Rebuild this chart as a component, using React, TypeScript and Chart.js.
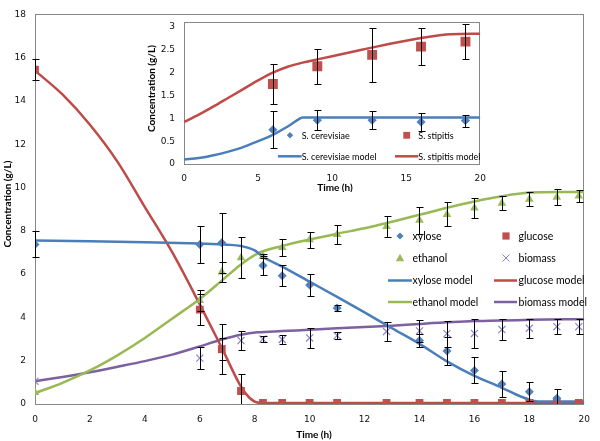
import React, { useEffect, useRef } from 'react';
import { Chart, registerables } from 'chart.js';

Chart.register(...registerables);

// ---------------- main chart data ----------------
const sampleTimes = [0, 6, 6.8, 7.5, 8.3, 9, 10, 11, 12.8, 14, 15, 16, 17, 18, 19, 19.8];
const xyloseVals = [7.37, 7.37, 7.45, null, 6.4, 5.93, 5.5, 4.43, null, 2.93, 2.45, 1.55, 0.92, 0.57, 0.27, null];
const xyloseErr = [0.6, 0.85, 1.38, 0, 0.45, 0.5, 0.5, 0.15, 0, 0.3, 0.65, 0.6, 0.6, 0.45, 0.4, 0];
const glucoseVals = [15.45, 4.36, 2.53, 0.6, 0.05, 0.05, 0.05, 0.05, 0.05, 0.05, 0.05, 0.05, 0.05, 0.05, 0.05, 0.05];
const glucoseErr = [0.5, 0.7, 1.15, 0.8, 0, 0, 0, 0, 0, 0, 0, 0, 0, 0, 0, 0];
const ethanolVals = [0.53, 4.78, 6.1, 6.76, 6.83, 7.23, 7.59, 7.83, 8.2, 8.49, 8.76, 9.06, 9.28, 9.46, 9.55, 9.61];
const ethanolErr = [0, 0.5, 0.45, 0.95, 0.1, 0.4, 0.37, 0.43, 0.5, 0.62, 0.55, 0.47, 0.32, 0.33, 0.37, 0.3];
const biomassVals = [1.05, 2.12, 2.55, 2.93, 3.0, 2.98, 3.05, 3.16, 3.35, 3.38, 3.25, 3.26, 3.44, 3.5, 3.57, 3.57];
const biomassErr = [0, 0.5, 0.5, 0.45, 0.15, 0.22, 0.45, 0.15, 0.43, 0.5, 0.6, 0.65, 0.5, 0.45, 0.35, 0.35];

const xyloseModelT = [0, 2, 4, 6, 7, 7.5, 8, 8.3, 9, 10, 11, 12, 13, 14, 15, 16, 17, 17.5, 18, 18.3, 20];
const xyloseModelY = [7.55, 7.52, 7.47, 7.41, 7.36, 7.3, 7.1, 6.8, 6.35, 5.65, 4.95, 4.23, 3.5, 2.78, 1.97, 1.3, 0.75, 0.45, 0.2, 0.12, 0.12];
const glucoseModelT = [0, 1, 2, 3, 4, 5, 6, 6.8, 7.5, 7.8, 8.1, 8.4, 20];
const glucoseModelY = [15.4, 14.3, 12.9, 11.2, 9.1, 7.0, 4.6, 2.6, 0.8, 0.3, 0.07, 0.05, 0.05];
const ethanolModelT = [0, 1, 2, 3, 4, 5, 6, 6.8, 7.5, 8.1, 9, 10, 11, 12, 13, 14, 15, 16, 17, 18, 19, 20];
const ethanolModelY = [0.5, 0.98, 1.55, 2.25, 3.05, 3.95, 4.85, 5.7, 6.45, 6.95, 7.3, 7.6, 7.87, 8.12, 8.42, 8.74, 9.07, 9.36, 9.6, 9.77, 9.8, 9.8];
const biomassModelT = [0, 1, 2, 3, 4, 5, 6, 6.8, 7.5, 8.1, 9, 10, 12, 13, 14, 16, 18, 20];
const biomassModelY = [1.05, 1.25, 1.47, 1.72, 1.98, 2.28, 2.66, 2.98, 3.2, 3.31, 3.37, 3.43, 3.56, 3.62, 3.7, 3.83, 3.89, 3.92];

const mainXTicks = [0, 2, 4, 6, 8, 10, 12, 14, 16, 18, 20];
const mainYTicks = [0, 2, 4, 6, 8, 10, 12, 14, 16, 18];

// ---------------- inset chart data ----------------
const insetTimes = [6, 9, 12.7, 16, 19];
const cerevisiaeVals = [0.75, 0.96, 0.96, 0.92, 0.95];
const cerevisiaeErr = [0.4, 0.22, 0.2, 0.2, 0.13];
const stipitisVals = [1.75, 2.14, 2.39, 2.57, 2.68];
const stipitisErr = [0.43, 0.38, 0.59, 0.4, 0.38];

const cerevisiaeModelT = [0, 1, 2, 3, 4, 5, 6, 7, 7.7, 8, 20];
const cerevisiaeModelY = [0.1, 0.13, 0.19, 0.27, 0.37, 0.5, 0.64, 0.82, 0.97, 1.02, 1.02];
const stipitisModelT = [0, 1, 2, 3, 4, 5, 6, 7, 8, 9, 10, 12, 14, 16, 18, 20];
const stipitisModelY = [0.92, 1.08, 1.26, 1.45, 1.64, 1.83, 2.0, 2.13, 2.22, 2.29, 2.36, 2.5, 2.64, 2.76, 2.84, 2.85];

const insetXTicks = [0, 5, 10, 15, 20];
const insetYTicks = [0, 0.5, 1, 1.5, 2, 2.5, 3];

// ---------------- styles ----------------
const BLUE_L = '#4a7ebb', BLUE_M = '#4f81bd';
const RED_L = '#be4b48', RED_M = '#c0504d';
const GREEN_L = '#98b954', GREEN_M = '#9bbb59';
const PURPLE_L = '#7d60a0', PURPLE_M = '#9283c2';
const FRAME = '#878787';
const TICK_FONT = { family: 'DejaVu Sans', size: 9 };

function pts(t: number[], y: (number | null)[], e?: number[]) {
  const out: any[] = [];
  t.forEach((x, i) => {
    if (y[i] != null) out.push({ x, y: y[i], e: e ? e[i] : 0 });
  });
  return out;
}

function lineDs(t: number[], y: number[], color: string) {
  return {
    data: pts(t, y),
    showLine: true,
    borderColor: color,
    backgroundColor: color,
    borderWidth: 2.5,
    pointRadius: 0,
    cubicInterpolationMode: 'monotone',
    order: 2,
  };
}

function markDs(t: number[], y: (number | null)[], e: number[], color: string, style: string, r: number) {
  return {
    data: pts(t, y, e),
    showLine: false,
    pointStyle: style,
    pointRadius: r,
    pointBackgroundColor: color,
    pointBorderColor: color,
    pointBorderWidth: style === 'crossRot' ? 1.2 : 0,
    errorBars: true,
    order: 1,
  };
}

function drawMarker(ctx: CanvasRenderingContext2D, kind: string, x: number, y: number, color: string, s: number) {
  ctx.save();
  ctx.fillStyle = color;
  ctx.strokeStyle = color;
  ctx.beginPath();
  if (kind === 'diamond') {
    ctx.moveTo(x, y - s); ctx.lineTo(x + s, y); ctx.lineTo(x, y + s); ctx.lineTo(x - s, y); ctx.closePath(); ctx.fill();
  } else if (kind === 'square') {
    ctx.rect(x - s, y - s, 2 * s, 2 * s); ctx.fill();
  } else if (kind === 'triangle') {
    ctx.moveTo(x, y - s); ctx.lineTo(x + s, y + s * 0.8); ctx.lineTo(x - s, y + s * 0.8); ctx.closePath(); ctx.fill();
  } else if (kind === 'cross') {
    ctx.lineWidth = 1;
    ctx.moveTo(x - s, y - s); ctx.lineTo(x + s, y + s); ctx.moveTo(x + s, y - s); ctx.lineTo(x - s, y + s); ctx.stroke();
  }
  ctx.restore();
}

const errorBarPlugin = {
  id: 'errorBars',
  afterDatasetsDraw(chart: any) {
    const ctx = chart.ctx;
    const a = chart.chartArea;
    const xs = chart.scales.x, ys = chart.scales.y;
    ctx.save();
    ctx.beginPath();
    ctx.rect(a.left - 5, a.top - 5, a.right - a.left + 10, a.bottom - a.top + 5);
    ctx.clip();
    ctx.strokeStyle = '#000';
    ctx.lineWidth = 1;
    chart.data.datasets.forEach((ds: any) => {
      if (!ds.errorBars) return;
      ds.data.forEach((p: any) => {
        if (!p.e) return;
        const px = Math.round(xs.getPixelForValue(p.x)) + 0.5;
        const y1 = Math.round(ys.getPixelForValue(p.y + p.e)) + 0.5;
        const y2 = Math.round(ys.getPixelForValue(Math.max(p.y - p.e, 0))) + 0.5;
        ctx.beginPath();
        ctx.moveTo(px, y1); ctx.lineTo(px, y2);
        ctx.moveTo(px - 3, y1); ctx.lineTo(px + 4, y1);
        if (p.y - p.e > 0) { ctx.moveTo(px - 3, y2); ctx.lineTo(px + 4, y2); }
        ctx.stroke();
      });
    });
    ctx.restore();
  },
};

type LegendEntry = { kind: string; color: string; label: string; x: number; y: number; x2?: number; s?: number };

function decoPlugin(opts: { xTitle: [number, number]; yTitle: [number, number]; titleSize: number; legend: LegendEntry[]; legendSize: number; textX: (e: LegendEntry) => number }) {
  return {
    id: 'deco',
    beforeDatasetsDraw(chart: any) {
      const ctx = chart.ctx;
      const a = chart.chartArea;
      ctx.save();
      ctx.strokeStyle = FRAME;
      ctx.lineWidth = 1;
      ctx.strokeRect(Math.round(a.left) + 0.5, Math.round(a.top) + 0.5, Math.round(a.right - a.left) - 1, Math.round(a.bottom - a.top));
      ctx.restore();
    },
    afterDraw(chart: any) {
      const ctx = chart.ctx;
      ctx.save();
      ctx.fillStyle = '#000';
      ctx.font = `bold ${opts.titleSize}px Lato`;
      ctx.textAlign = 'center';
      ctx.textBaseline = 'middle';
      ctx.fillText('Time (h)', opts.xTitle[0], opts.xTitle[1]);
      ctx.save();
      ctx.translate(opts.yTitle[0], opts.yTitle[1]);
      ctx.rotate(-Math.PI / 2);
      ctx.fillText('Concentration (g/L)', 0, 0);
      ctx.restore();
      ctx.font = `${opts.legendSize}px Lato`;
      ctx.textAlign = 'left';
      opts.legend.forEach((e) => {
        if (e.kind === 'line') {
          ctx.save();
          ctx.strokeStyle = e.color;
          ctx.lineWidth = 2.5;
          ctx.beginPath();
          ctx.moveTo(e.x, e.y);
          ctx.lineTo(e.x2 as number, e.y);
          ctx.stroke();
          ctx.restore();
        } else {
          drawMarker(ctx, e.kind, e.x, e.y, e.color, e.s || 3.5);
        }
        ctx.fillStyle = '#000';
        ctx.fillText(e.label, opts.textX(e), e.y + 0.5);
      });
      ctx.restore();
    },
  };
}

const fmt = (v: any) => String(Math.round(Number(v) * 100) / 100);

function scaleX(min: number, max: number, ticks: number[], pad: number, h: number) {
  return {
    type: 'linear',
    min, max,
    afterBuildTicks: (s: any) => { s.ticks = ticks.map((v) => ({ value: v })); },
    afterFit: (s: any) => { s.height = h; },
    ticks: { font: TICK_FONT, color: '#111', padding: pad, maxRotation: 0, autoSkip: false, callback: fmt },
    grid: { display: false, drawTicks: false },
    border: { display: false },
  };
}

function scaleY(min: number, max: number, ticks: number[], pad: number, w: number) {
  return {
    type: 'linear',
    min, max,
    afterBuildTicks: (s: any) => { s.ticks = ticks.map((v) => ({ value: v })); },
    afterFit: (s: any) => { s.width = w; },
    ticks: { font: TICK_FONT, color: '#111', padding: pad, autoSkip: false, callback: fmt },
    grid: { display: false, drawTicks: false },
    border: { display: false },
  };
}

export default function App() {
  const mainRef = useRef<HTMLCanvasElement | null>(null);
  const insetRef = useRef<HTMLCanvasElement | null>(null);

  useEffect(() => {
    const mainLegend: LegendEntry[] = [
      { kind: 'diamond', color: BLUE_M, label: 'xylose', x: 400, y: 236, s: 3.6 },
      { kind: 'square', color: RED_M, label: 'glucose', x: 506, y: 236, s: 3.6 },
      { kind: 'triangle', color: GREEN_M, label: 'ethanol', x: 400, y: 258, s: 4.2 },
      { kind: 'cross', color: PURPLE_M, label: 'biomass', x: 506, y: 258, s: 3.6 },
      { kind: 'line', color: BLUE_L, label: 'xylose model', x: 388, x2: 412, y: 280.5 },
      { kind: 'line', color: RED_L, label: 'glucose model', x: 494, x2: 517, y: 280.5 },
      { kind: 'line', color: GREEN_L, label: 'ethanol model', x: 388, x2: 412, y: 302 },
      { kind: 'line', color: PURPLE_L, label: 'biomass model', x: 494, x2: 517, y: 302 },
    ];
    const main = new Chart(mainRef.current as HTMLCanvasElement, {
      type: 'scatter',
      data: {
        datasets: [
          markDs(sampleTimes, xyloseVals, xyloseErr, BLUE_M, 'rectRot', 4.5),
          markDs(sampleTimes, glucoseVals, glucoseErr, RED_M, 'rect', 5.5),
          markDs(sampleTimes, ethanolVals, ethanolErr, GREEN_M, 'triangle', 5),
          markDs(sampleTimes, biomassVals, biomassErr, PURPLE_M, 'crossRot', 5),
          lineDs(xyloseModelT, xyloseModelY, BLUE_L),
          lineDs(glucoseModelT, glucoseModelY, RED_L),
          lineDs(ethanolModelT, ethanolModelY, GREEN_L),
          lineDs(biomassModelT, biomassModelY, PURPLE_L),
        ] as any,
      },
      options: {
        responsive: false,
        animation: false,
        events: [],
        layout: { padding: { top: 4, right: 7, left: 0, bottom: 0 } },
        plugins: { legend: { display: false }, tooltip: { enabled: false } },
        scales: {
          x: scaleX(0, 20, mainXTicks, 10, 37),
          y: scaleY(0, 18, mainYTicks, 9, 35),
        } as any,
      },
      plugins: [
        decoPlugin({
          xTitle: [314, 435],
          yTitle: [8, 204],
          titleSize: 10,
          legend: mainLegend,
          legendSize: 10.5,
          textX: (e) => (e.x < 450 ? 412.5 : 518.5),
        }),
        errorBarPlugin,
      ],
    });

    const insetLegend: LegendEntry[] = [
      { kind: 'diamond', color: BLUE_M, label: 'S. cerevisiae', x: 150, y: 127.3, s: 3.2 },
      { kind: 'square', color: RED_M, label: 'S. stipitis', x: 266.7, y: 127.3, s: 3.4 },
      { kind: 'line', color: BLUE_L, label: 'S. cerevisiae model', x: 138, x2: 161.7, y: 148.3 },
      { kind: 'line', color: RED_L, label: 'S. stipitis model', x: 255, x2: 278.3, y: 148.3 },
    ];
    const inset = new Chart(insetRef.current as HTMLCanvasElement, {
      type: 'scatter',
      data: {
        datasets: [
          markDs(insetTimes, cerevisiaeVals, cerevisiaeErr, BLUE_M, 'rectRot', 4.6),
          markDs(insetTimes, stipitisVals, stipitisErr, RED_M, 'rect', 7),
          lineDs(cerevisiaeModelT, cerevisiaeModelY, BLUE_L),
          lineDs(stipitisModelT, stipitisModelY, RED_L),
        ] as any,
      },
      options: {
        responsive: false,
        animation: false,
        events: [],
        layout: { padding: { top: 5, right: 8, left: 0, bottom: 0 } },
        plugins: { legend: { display: false }, tooltip: { enabled: false } },
        scales: {
          x: scaleX(0, 20, insetXTicks, 9, 28),
          y: scaleY(0, 3.1, insetYTicks, 9, 44),
        } as any,
      },
      plugins: [
        decoPlugin({
          xTitle: [195, 180],
          yTitle: [12, 80.5],
          titleSize: 10,
          legend: insetLegend,
          legendSize: 9,
          textX: (e) => (e.x < 200 ? 161.7 : 278.3),
        }),
        errorBarPlugin,
      ],
    });

    return () => {
      main.destroy();
      inset.destroy();
    };
  }, []);

  return (
    <div style={{ position: 'fixed', left: 0, top: 0, width: 600, height: 441, background: '#fff' }}>
      <canvas ref={mainRef} width={600} height={441} style={{ position: 'absolute', left: 0, top: 0, width: 600, height: 441 }} />
      <canvas ref={insetRef} width={355} height={184} style={{ position: 'absolute', left: 140, top: 8, width: 355, height: 184 }} />
    </div>
  );
}
